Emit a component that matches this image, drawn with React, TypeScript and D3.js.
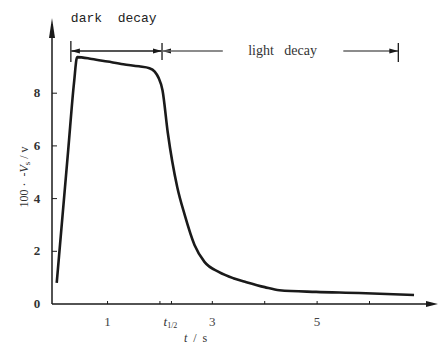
import React from 'react';
import * as d3 from 'd3';

// curve: time (s) vs 100·V/v
const timeS = [0.03, 0.12, 0.25, 0.36, 0.42, 0.7, 1.0, 1.3, 1.6, 1.8, 1.9, 1.97, 2.05, 2.15, 2.33, 2.47, 2.66, 2.85, 3.13, 3.4, 3.65, 4.0, 4.28, 4.98, 5.8, 6.85];
const voltage = [0.8, 2.87, 5.86, 8.39, 9.37, 9.3, 9.2, 9.1, 9.02, 8.95, 8.82, 8.6, 8.1, 6.5, 4.44, 3.4, 2.24, 1.6, 1.21, 0.98, 0.83, 0.64, 0.52, 0.46, 0.42, 0.34];

const xTicks = [1, 2, 3, 4, 5, 6];
const xTickLabels = ['1', '', '3', '', '5', ''];
const yTicks = [0, 2, 4, 6, 8];
const tHalf = 2.22;
const lightEnd = 6.55;

const W = 438;
const H = 345;

const App = () => {
  const x = d3.scaleLinear().domain([-0.06, 7.46]).range([52, 446]);
  const y = d3.scaleLinear().domain([0, 9]).range([304, 304 - 9 * 26.35]);

  const line = d3
    .line<number>()
    .x((d, i) => x(timeS[i]))
    .y(d => y(d))
    .curve(d3.curveMonotoneX);

  const x0 = x(-0.06);
  const y0 = y(0);
  const arrowY = 51;
  const ink = '#1a1a1a';

  return (
    <svg width={W} height={H} style={{ position: 'absolute', left: 0, top: 0, background: '#fff' }}>
      {/* axes */}
      <line x1={x0} y1={y0} x2={432} y2={y0} stroke={ink} strokeWidth={1.4} />
      <path d={`M438,${y0} L426,${y0 - 3} L426,${y0 + 3} Z`} fill={ink} />
      <line x1={x0} y1={y0} x2={x0} y2={24} stroke={ink} strokeWidth={1.5} />
      <path d={`M${x0},18 L${x0 - 3},38 L${x0 + 3},38 Z`} fill={ink} />

      {yTicks.map(t => (
        <g key={t}>
          {t > 0 && <line x1={x0} x2={x0 + 5} y1={y(t)} y2={y(t)} stroke={ink} strokeWidth={1} />}
          <text x={37} y={y(t) + 4} textAnchor="middle" fontFamily="Liberation Serif" fontSize={13} fontWeight="bold" fill="#333">
            {t}
          </text>
        </g>
      ))}
      {xTicks.map((t, i) => (
        <g key={t}>
          <line x1={x(t)} x2={x(t)} y1={y0} y2={y0 - 3} stroke={ink} strokeWidth={1} />
          <text x={x(t)} y={326} textAnchor="middle" fontFamily="Liberation Serif" fontSize={13} fill="#444">
            {xTickLabels[i]}
          </text>
        </g>
      ))}
      <line x1={x(tHalf)} x2={x(tHalf)} y1={y0} y2={y0 - 3} stroke={ink} strokeWidth={1} />
      <text x={x(tHalf) - 1} y={326} textAnchor="middle" fontFamily="Liberation Serif" fontSize={13} fontStyle="italic" fill="#333">
        t<tspan fontSize={8} dy={2} fontStyle="normal">1/2</tspan>
      </text>
      <text x={x(2.68)} y={342} textAnchor="middle" fontFamily="Liberation Serif" fontSize={12} fill="#333" xmlSpace="preserve">
        <tspan fontStyle="italic">t</tspan>  /  s
      </text>

      <text
        transform="translate(28,177) rotate(-90)"
        textAnchor="middle"
        fontFamily="Liberation Serif"
        fontSize={12}
        fill="#333"
        xmlSpace="preserve"
      >
        100 ·  -<tspan fontStyle="italic">V</tspan>
        <tspan fontSize={9} dy={2}>s</tspan>
        <tspan dy={-2}> / v</tspan>
      </text>

      {/* curve */}
      <path d={line(voltage) ?? ''} fill="none" stroke={ink} strokeWidth={2.6} strokeLinejoin="round" />

      {/* dark decay / light decay markers */}
      <line x1={x(0.3)} x2={x(0.3)} y1={41} y2={62} stroke={ink} strokeWidth={1.3} />
      <line x1={x(2.04)} x2={x(2.04)} y1={43} y2={60} stroke={ink} strokeWidth={1.3} />
      <line x1={x(0.3)} x2={x(2.04)} y1={arrowY} y2={arrowY} stroke="#555" strokeWidth={2} />
      <path d={`M${x(0.3)},${arrowY} l9,-2.5 l0,5 Z`} fill={ink} />
      <path d={`M${x(2.04)},${arrowY} l-9,-2.5 l0,5 Z`} fill={ink} />
      <path d={`M${x(2.04)},${arrowY} l9,-2.5 l0,5 Z`} fill={ink} />
      <line x1={x(2.04)} x2={x(3.2)} y1={arrowY} y2={arrowY} stroke="#666" strokeWidth={1.3} />
      <line x1={x(5.5)} x2={x(lightEnd)} y1={arrowY} y2={arrowY} stroke="#666" strokeWidth={1.3} />
      <path d={`M${x(lightEnd)},${arrowY} l-9,-2.5 l0,5 Z`} fill={ink} />
      <line x1={x(lightEnd)} x2={x(lightEnd)} y1={43} y2={62} stroke={ink} strokeWidth={1.3} />

      <text x={x(0.3)} y={22} fontFamily="Liberation Mono" fontSize={13} fill="#222" xmlSpace="preserve">
        dark  decay
      </text>
      <text x={x(4.34)} y={55} textAnchor="middle" fontFamily="Liberation Serif" fontSize={14} fill="#333" xmlSpace="preserve">
        light   decay
      </text>
    </svg>
  );
};

export default App;
